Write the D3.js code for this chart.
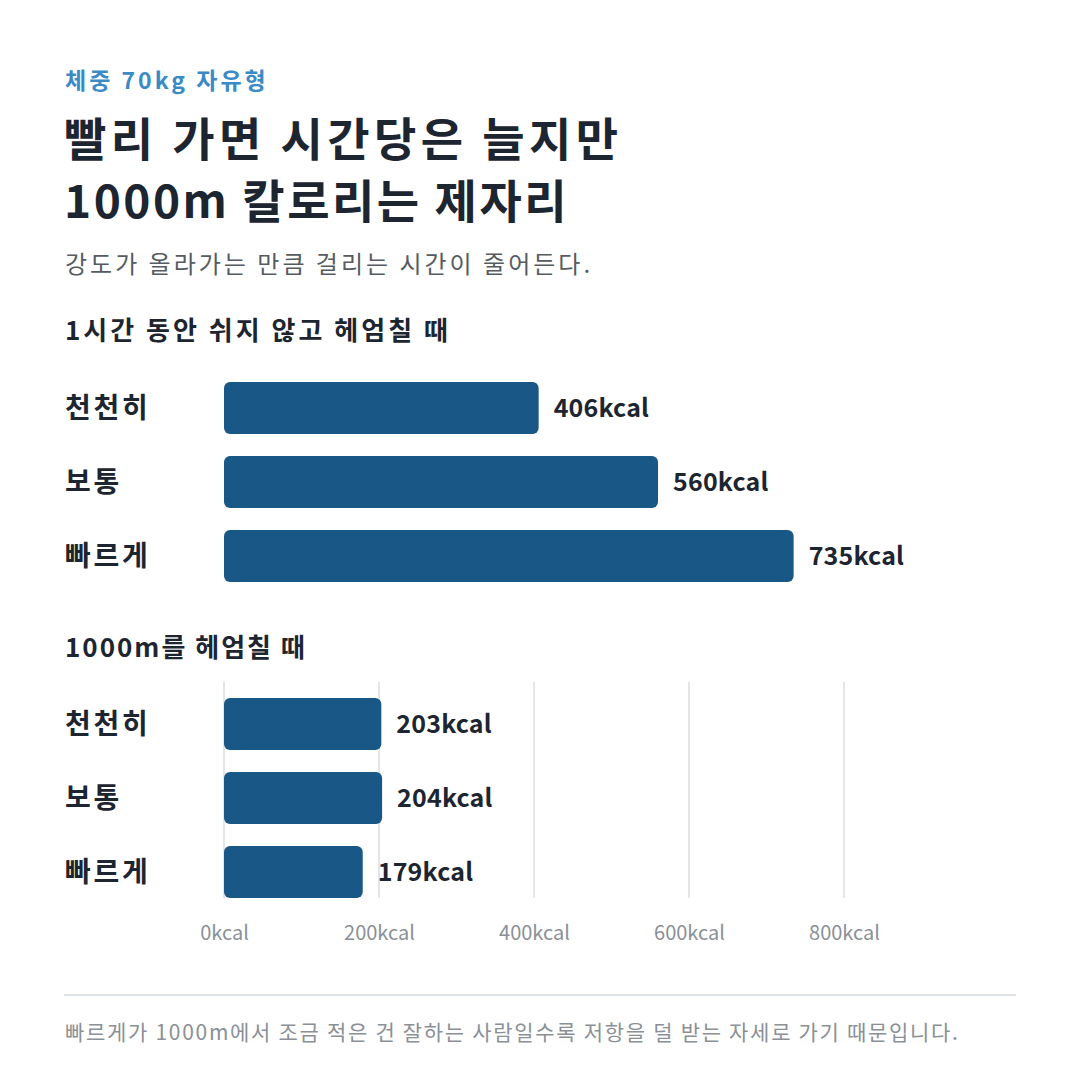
<!DOCTYPE html>
<html><head><meta charset="utf-8">
<script src="https://cdn.jsdelivr.net/npm/d3@7"></script>
<style>
html,body{margin:0;padding:0;background:#fff;}
svg text{font-family:"Noto Sans CJK KR","Noto Sans",sans-serif;}
</style></head>
<body>
<svg id="chart" width="1080" height="1085"></svg>
<script>
const categories = ["천천히", "보통", "빠르게"];
const perHour = [406, 560, 735];
const per1000m = [203, 204, 179];
const tickValues = [0, 200, 400, 600, 800];
const sectionTitles = ["1시간 동안 쉬지 않고 헤엄칠 때", "1000m를 헤엄칠 때"];

const svg = d3.select("#chart");
const barColor = "#195886";
const dark = "#1d2530";

svg.append("text").attr("x",65).attr("y",89).attr("fill","#3a8ac6")
  .attr("font-size",23).attr("font-weight",700).attr("letter-spacing",3).text("체중 70kg 자유형");
svg.append("text").attr("x",64).attr("y",156).attr("fill",dark)
  .attr("font-size",46).attr("font-weight",700).attr("letter-spacing",4.4).text("빨리 가면 시간당은 늘지만");
svg.append("text").attr("x",64).attr("y",218).attr("fill",dark)
  .attr("font-size",46).attr("font-weight",700).attr("letter-spacing",2.5).text("1000m 칼로리는 제자리");
svg.append("text").attr("x",65).attr("y",273).attr("fill","#555b61")
  .attr("font-size",24).attr("letter-spacing",3).text("강도가 올라가는 만큼 걸리는 시간이 줄어든다.");

const x = d3.scaleLinear().domain([0, 800]).range([224, 844]);

function drawGroup(values, title, titleY, top, withGrid, titleSpacing) {
  svg.append("text").attr("x",65).attr("y",titleY).attr("fill",dark)
    .attr("font-size",26).attr("font-weight",700).attr("letter-spacing",titleSpacing).text(title);
  const y = d3.scaleBand().domain(categories).range([top, top + 222]).paddingInner(0.297).paddingOuter(0.148);
  const g = svg.append("g");
  if (withGrid) {
    g.selectAll("line.grid").data(tickValues).join("line")
      .attr("x1", d => x(d)).attr("x2", d => x(d))
      .attr("y1", top - 5).attr("y2", top + 211)
      .attr("stroke", "#e3e6e9").attr("stroke-width", 2);
  }
  const data = categories.map((c, i) => ({c, v: values[i]}));
  g.selectAll("rect").data(data).join("rect")
    .attr("x", x(0)).attr("y", d => y(d.c))
    .attr("width", d => x(d.v) - x(0)).attr("height", y.bandwidth())
    .attr("rx", 6).attr("fill", barColor);
  g.selectAll("text.cat").data(data).join("text").attr("class","cat")
    .attr("x", 65).attr("y", d => y(d.c) + y.bandwidth()/2)
    .attr("dy", "0.36em").attr("fill", dark).attr("letter-spacing", 2.8)
    .attr("font-size", 28).attr("font-weight", 700).text(d => d.c);
  g.selectAll("text.val").data(data).join("text").attr("class","val")
    .attr("x", d => x(d.v) + 15).attr("y", d => y(d.c) + y.bandwidth()/2)
    .attr("dy", "0.36em").attr("fill", dark).attr("letter-spacing", 0.2)
    .attr("font-size", 25).attr("font-weight", 700).text(d => d.v + "kcal");
  return y;
}

drawGroup(perHour, sectionTitles[0], 340, 371, false, 3.0);
drawGroup(per1000m, sectionTitles[1], 657, 687, true, 2.0);

const axis = d3.axisBottom(x).tickValues(tickValues).tickSize(0).tickPadding(0).tickFormat(d => d + "kcal");
const ag = svg.append("g").attr("transform","translate(0,926)").call(axis);
ag.select(".domain").remove();
ag.selectAll("text").attr("font-size",20).attr("fill","#8a9096")
  .attr("font-family",'"Noto Sans CJK KR","Noto Sans",sans-serif').attr("dy","0.71em");

svg.append("line").attr("x1",64).attr("x2",1016).attr("y1",995).attr("y2",995)
  .attr("stroke","#dde3e6").attr("stroke-width",2);
svg.append("text").attr("x",65).attr("y",1040).attr("fill","#8a9096")
  .attr("font-size",21).attr("letter-spacing",1.7).text("빠르게가 1000m에서 조금 적은 건 잘하는 사람일수록 저항을 덜 받는 자세로 가기 때문입니다.");
</script>
</body></html>
